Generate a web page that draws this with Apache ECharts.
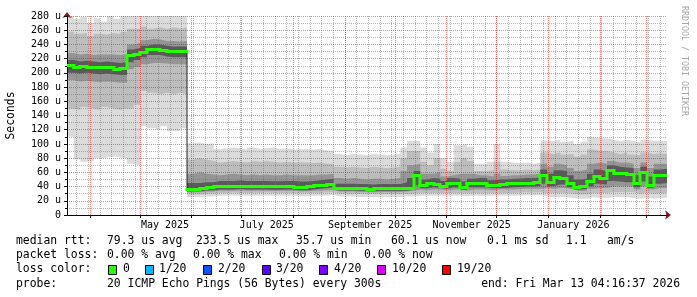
<!DOCTYPE html>
<html><head><meta charset="utf-8">
<script src="https://cdn.jsdelivr.net/npm/echarts@6/dist/echarts.min.js"></script>
<style>html,body{margin:0;padding:0;background:#fff}#c{width:697px;height:297px}</style>
</head><body><div id="c"></div>
<script>
// ---- sample times (4-day steps) ----
const dates = [
'2025-03-18','2025-03-22','2025-03-26','2025-03-30','2025-04-03','2025-04-07','2025-04-11','2025-04-15','2025-04-19','2025-04-23',
'2025-04-27','2025-05-01','2025-05-05','2025-05-09','2025-05-13','2025-05-17','2025-05-21','2025-05-25','2025-05-29','2025-06-02',
'2025-06-06','2025-06-10','2025-06-14','2025-06-18','2025-06-22','2025-06-26','2025-06-30','2025-07-04','2025-07-08','2025-07-12',
'2025-07-16','2025-07-20','2025-07-24','2025-07-28','2025-08-01','2025-08-05','2025-08-09','2025-08-13','2025-08-17','2025-08-21',
'2025-08-25','2025-08-29','2025-09-02','2025-09-06','2025-09-10','2025-09-14','2025-09-18','2025-09-22','2025-09-26','2025-09-30',
'2025-10-04','2025-10-08','2025-10-12','2025-10-16','2025-10-20','2025-10-24','2025-10-28','2025-11-01','2025-11-05','2025-11-09',
'2025-11-13','2025-11-17','2025-11-21','2025-11-25','2025-11-29','2025-12-03','2025-12-07','2025-12-11','2025-12-15','2025-12-19',
'2025-12-23','2025-12-27','2025-12-31','2026-01-04','2026-01-08','2026-01-12','2026-01-16','2026-01-20','2026-01-24','2026-01-28',
'2026-02-01','2026-02-05','2026-02-09','2026-02-13','2026-02-17','2026-02-21','2026-02-25','2026-03-01','2026-03-05','2026-03-09',
'2026-03-13'];

// ---- median rtt (us) ----
const median = [
210,208,209,208,207,208,207,205,206,
224,226,
229,233,233,231,230,230,230,
36,36,37,38,
40,40,40,40.5,40,40,40,40,39.5,39.5,40,40,39,
39,40,41,42,43,
37.5,37.5,37.5,37,37,36.5,37,37,37,37,37,37,
55,
41,45,43,40,45,44,38,44,45,45,41,42,43,44,44.5,45,45,45.5,
55,46,53,52,45,39,40,47,54,52,62,59,58,57,44,60,42,55,56,56];

// ---- smoke envelopes (us), outermost to innermost ----
const maxRtt = [
282,276,279,270,277,272,281,276,282,
283,283,
284,282,284,283,284,283,284,
101,102,100,101,
93,94,95,94,92,95,93,94,95,93,94,92,93,
93,92,93,91,90,
86,84,86,85,84,86,85,84,85,86,95,104,
104,
95,88,100,80,75,98,100,96,72,72,75,100,75,74,73,74,72,74,
105,104,106,103,105,100,103,110,108,108,106,104,106,104,102,106,104,105,104,106];

const upperMid = [
258,255,256,252,255,254,256,255,258,
262,262,
265,262,264,262,264,262,264,
78,80,78,76,
74,75,76,75,74,76,75,76,75,74,75,74,74,
74,73,74,72,72,
68,67,68,67,66,68,67,66,67,68,80,90,
90,
75,70,80,65,62,75,80,76,62,62,63,75,64,63,63,64,63,64,
88,86,88,85,86,82,85,92,90,90,88,86,88,85,84,88,86,87,86,88];

const upperInner = [
228,226,227,225,226,226,226,225,226,
240,242,
246,248,247,245,245,244,245,
58,60,58,57,
56,57,58,57,56,57,56,57,56,56,57,56,56,
56,56,57,57,58,
52,51,52,51,50,51,51,50,51,52,62,70,
72,
58,58,60,54,56,58,58,58,56,56,54,58,55,56,56,57,57,58,
72,68,72,70,66,62,64,72,74,72,76,74,74,72,66,74,66,72,72,72];

const upperCore = [
218,216,217,216,215,216,215,214,215,
233,235,
238,240,240,238,237,237,237,
45,45,46,46,
48,48,48,48.5,48,48,48,48,47.5,47.5,48,48,47,
47,48,49,50,51,
44,44,44,43.5,43.5,43,43.5,43.5,43.5,43.5,46,52,
62,
50,52,51,48,52,51,47,51,52,52,49,50,50,51,51.5,52,52,52.5,
64,58,63,62,56,50,51,58,64,62,70,68,67,66,56,68,54,64,65,65];

const lowerCore = [
200,199,200,199,198,199,198,197,197,
215,218,
222,225,225,223,222,222,222,
33.5,33.5,34.5,35,
36,36,36,36.5,36,36,36,36,35.5,35.5,36,36,35,
35,36,37,38,39,
34.5,34.5,34.5,34,34,33.5,34,34,34,34,34,35.5,
42,
37.5,39,38.5,37,39,38.5,35.5,39,39,39,37.5,38,38.5,39,39.5,40,40,40.5,
44,40.5,43,43,39,36,36.5,40.5,44,43,48,47,46,46,39,47,38.5,44,45,45];

const lowerInner = [
190,188,189,188,187,188,187,186,186,
205,208,
212,214,214,213,212,212,212,
32,32,33,33,
34,34,34,34.5,34,34,34,34,34,34,34,34,33.5,
33.5,34,34.5,35,35.5,
33,33,33,32.5,32.5,32,32.5,32.5,32.5,32.5,33,34,
36,
35,36,36,35,36,36,34,36,36,36,35,36,36,36,36.5,37,37,37,
38,37,38,38,36,34,34,37,38,38,40,40,40,40,36,40,36,38,38,38];

const lowerMid = [
150,148,152,150,148,152,150,148,150,
150,155,
175,172,170,172,170,172,170,
29,29,30,30,
31,31,31.5,31,31,31,31,31.5,31,31,31,31,30.5,
30.5,31,31,31.5,32,
30,30,30,29.5,29.5,29.5,29.5,29.5,29.5,29.5,30,30,
31,
31,31,31,31,31,31,30.5,31,31,31,31,31,31,31,31.5,31.5,31.5,32,
31,31,31,31,30,29,29,31,31,31,32,32,32,32,30,32,30,31,31,31];

const minRtt = [
110,78,75,76,80,81,82,81,80,
72,70,
125,122,120,125,118,118,122,
25,25,26,26,
27,27,27.5,27,27,27,27,27.5,27,27,27,27,26.5,
26.5,27,27,27.5,28,
26,26,26,25.5,25.5,25.5,25.5,25.5,25.5,25.5,26,26,
27,
27,27,27,27,27,27,26.5,27,27,27,27,27,27,27,27.5,27.5,27.5,28,
26,25,25,25,24,23,23,25,24,24,25,25,25,24,23,24,23,24,24,24];

// ---- axis ticks / labels ----
const startTime = '2025-03-18T04:16:37';
const endTime = '2026-03-13T04:16:37';
const monthStarts = ['2025-04-01','2025-05-01','2025-06-01','2025-07-01','2025-08-01','2025-09-01','2025-10-01',
  '2025-11-01','2025-12-01','2026-01-01','2026-02-01','2026-03-01'];
const labelDates = ['2025-05-16','2025-07-16','2025-09-16','2025-11-16','2026-01-16'];
const labelTexts = ['May 2025','July 2025','September 2025','November 2025','January 2026'];
const firstWeek = '2025-03-24';
const yTicks = [0,20,40,60,80,100,120,140,160,180,200,220,240,260,280];

// ---- build ----
const T = s => new Date(s.length > 10 ? s : s + 'T04:16:37').getTime();
const D = s => new Date(s + 'T00:00:00').getTime();
const tMin = T(startTime), tMax = T(endTime);
const times = dates.map(T);
const pts = arr => arr.map((v, i) => [times[i], v]);
const weekTimes = [];
for (let t = D(firstWeek); t < tMax; t += 7 * 86400000) weekTimes.push(t);
const labelTimes = labelDates.map(D);

const FONT = '"DejaVu Sans Mono", monospace';
const MAJ = 'rgba(255,0,0,0.5)';
const MIN = 'rgba(110,110,110,0.5)';

// painter's order: each envelope filled down to the axis, inner ones over outer ones
function env(name, arr, color) {
  return { name, type: 'line', data: pts(arr), step: 'end', symbol: 'none', silent: true,
    lineStyle: { width: 0, color }, areaStyle: { color, opacity: 1 }, z: 1 };
}

const sx = v => Math.round(v);
const sy = v => Math.round(v - 0.5) + 0.5;

const series = [
  env('max', maxRtt, '#dbdbdb'),
  env('upperMid', upperMid, '#bdbdbd'),
  env('upperInner', upperInner, '#959595'),
  env('upperCore', upperCore, '#5a5a5a'),
  env('lowerCore', lowerCore, '#959595'),
  env('lowerInner', lowerInner, '#bdbdbd'),
  env('lowerMid', lowerMid, '#dbdbdb'),
  env('min', minRtt, '#ffffff'),
  { name: 'medianBlack', type: 'line', data: pts(median), step: 'end', symbol: 'none', silent: true,
    lineStyle: { color: '#202020', width: 1 }, z: 20 },
  { name: 'median', type: 'custom', data: pts(median), silent: true, z: 21, clip: true,
    encode: { x: 0, y: 1 },
    renderItem: (params, api) => {
      const i = params.dataIndex;
      if (i >= median.length - 1) return null;
      const p0 = api.coord([times[i], median[i]]);
      const p1 = api.coord([times[i + 1], median[i + 1]]);
      const x0 = sx(p0[0]), x1 = sx(p1[0]), y0 = sy(p0[1]), y1 = sy(p1[1]);
      const points = [[x0, y0], [x1, y0]];
      if (Math.abs(y1 - y0) < 60) points.push([x1, y1]);
      return { type: 'polyline', shape: { points },
        style: { stroke: '#26ff00', lineWidth: 3, fill: null, lineJoin: 'miter', lineCap: 'square' } };
    } }
];

const LF = '11.4px ' + FONT;
const L = (text, x, y, align) => ({ type: 'text', x, y, silent: true,
  style: { text, fill: '#000', font: LF, verticalAlign: 'middle', align: align || 'left' } });
const box = (x, y, color) => ({ type: 'rect', silent: true, shape: { x: x + 0.5, y: y + 0.5, width: 8, height: 9 },
  style: { fill: color, stroke: '#000', lineWidth: 1 } });

const r1 = 241, r2 = 255.5, r3 = 269.5, r4 = 284;
const graphic = [
  L('median rtt:', 16, r1), L('79.3 us avg', 107, r1), L('233.5 us max', 196, r1), L('35.7 us min', 296, r1),
  L('60.1 us now', 391, r1), L('0.1 ms sd', 487, r1), L('1.1', 566, r1), L('am/s', 607, r1),
  L('packet loss:', 16, r2), L('0.00 % avg', 107, r2), L('0.00 % max', 193, r2), L('0.00 % min', 279, r2), L('0.00 % now', 364, r2),
  L('loss color:', 16, r3),
  box(108, 265, '#26ff00'), L('0', 123, r3),
  box(145, 265, '#00b8ff'), L('1/20', 159, r3),
  box(203, 265, '#0059ff'), L('2/20', 218, r3),
  box(262, 265, '#5e00ff'), L('3/20', 276, r3),
  box(319, 265, '#7e00ff'), L('4/20', 334, r3),
  box(377, 265, '#dd00ff'), L('10/20', 392, r3),
  box(442, 265, '#ff0000'), L('19/20', 457, r3),
  L('probe:', 16, r4), L('20 ICMP Echo Pings (56 Bytes) every 300s', 107, r4), L('end: Fri Mar 13 04:16:37 2026', 680, r4, 'right'),
  { type: 'text', x: 684, y: 6, rotation: -Math.PI / 2, silent: true,
    style: { text: 'RRDTOOL / TOBI OETIKER', fill: '#a8a8a8', font: '8.3px ' + FONT, align: 'left', verticalAlign: 'middle' } }
];

const chart = echarts.init(document.getElementById('c'), null, { renderer: 'canvas' });
chart.setOption({
  animation: false,
  backgroundColor: '#fff',
  grid: { left: 67, right: 30, top: 16, bottom: 82, outerBoundsMode: 'none', containLabel: false },
  xAxis: [
    { type: 'value', min: tMin, max: tMax, z: 10,
      axisLine: { show: true, onZero: false, lineStyle: { color: '#000', width: 1 } },
      axisTick: { show: true, length: 3, customValues: monthStarts.map(D), lineStyle: { color: '#000' } },
      axisLabel: { show: true, customValues: labelTimes, margin: 5, color: '#000', fontSize: 10, fontFamily: FONT,
        formatter: v => { const i = labelTimes.findIndex(t => Math.abs(t - v) < 3600000); return i >= 0 ? labelTexts[i] : ''; } },
      splitLine: { show: true, lineStyle: { color: MAJ, width: 1, type: [1, 1] } } },
    { type: 'value', min: tMin, max: tMax, z: 9, position: 'bottom',
      axisLine: { show: false }, axisLabel: { show: false },
      axisTick: { show: false, customValues: weekTimes },
      splitLine: { show: true, lineStyle: { color: MIN, width: 1, type: [1, 1] } } },
    { type: 'value', min: tMin, max: tMax, z: 8, position: 'bottom',
      axisLine: { show: true, onZero: false, symbol: ['none', 'arrow'], symbolSize: [7, 6], symbolOffset: [0, 4],
        lineStyle: { color: '#8b1a1a', width: 1 } },
      axisLabel: { show: false }, axisTick: { show: false }, splitLine: { show: false } }
  ],
  yAxis: [
    { type: 'value', min: 0, max: 280, interval: 20, z: 10, position: 'left',
      name: 'Seconds', nameLocation: 'middle', nameRotate: 90, nameGap: 50,
      nameTextStyle: { color: '#000', fontSize: 11.4, fontFamily: FONT },
      axisLine: { show: true, onZero: false, lineStyle: { color: '#000', width: 1 } },
      axisTick: { show: true, length: 3, customValues: yTicks, lineStyle: { color: '#000' } },
      minorTick: { show: true, splitNumber: 2, length: 2, lineStyle: { color: '#000' } },
      axisLabel: { color: '#000', fontSize: 10, fontFamily: FONT, margin: 6,
        customValues: yTicks, formatter: v => v === 0 ? '0' : v + ' u' },
      splitLine: { show: true, lineStyle: { color: MAJ, width: 1, type: [1, 1] } },
      minorSplitLine: { show: true, lineStyle: { color: MIN, width: 1, type: [1, 1] } } },
    { type: 'value', min: 0, max: 280, interval: 20, z: 8, position: 'left',
      axisLine: { show: true, onZero: false, symbol: ['none', 'arrow'], symbolSize: [7, 6], symbolOffset: [0, 4],
        lineStyle: { color: '#8b1a1a', width: 1 } },
      axisLabel: { show: false }, axisTick: { show: false }, splitLine: { show: false } }
  ],
  series,
  graphic
});
</script></body></html>
